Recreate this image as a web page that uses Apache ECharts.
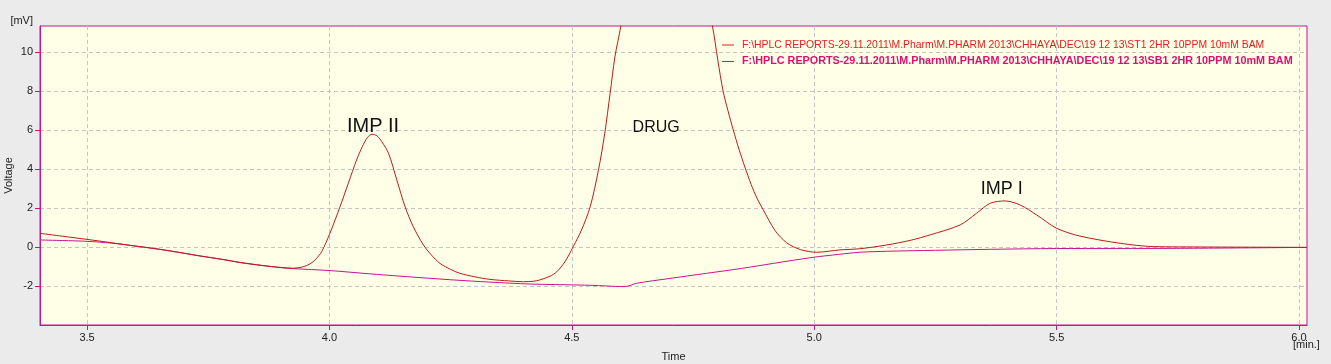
<!DOCTYPE html>
<html>
<head>
<meta charset="utf-8">
<script src="https://cdn.jsdelivr.net/npm/echarts@6/dist/echarts.min.js"></script>
<style>
html,body{margin:0;padding:0;background:#ebebeb;}
#chart{width:1331px;height:364px;}
</style>
</head>
<body>
<div id="chart"></div>
<script>
// ---- data (time in min, voltage in mV) ----
const st1Time = [3.403,3.45,3.50,3.55,3.59,3.65,3.70,3.733,3.78,3.816,3.86,3.90,3.926,3.945,3.960,3.972,3.984,4.001,4.022,4.039,4.056,4.068,4.078,4.088,4.098,4.108,4.122,4.139,4.156,4.173,4.194,4.21,4.228,4.25,4.269,4.30,4.331,4.37,4.400,4.420,4.434,4.455,4.469,4.486,4.503,4.520,4.538,4.555,4.568,4.579,4.589,4.601,4.62,4.65,4.69,4.73,4.76,4.790,4.801,4.812,4.822,4.833,4.845,4.857,4.870,4.882,4.895,4.919,4.943,4.971,5.005,5.053,5.094,5.149,5.20,5.239,5.301,5.335,5.363,5.394,5.425,5.459,5.500,5.548,5.631,5.700,5.80,5.90,6.0165];
const st1Volt = [0.70,0.55,0.39,0.22,0.08,-0.12,-0.32,-0.46,-0.64,-0.79,-0.94,-1.05,-1.09,-1.02,-0.87,-0.62,-0.24,0.70,2.07,3.27,4.46,5.15,5.60,5.78,5.70,5.40,4.80,3.44,2.07,1.04,0.10,-0.40,-0.84,-1.15,-1.35,-1.53,-1.66,-1.74,-1.78,-1.76,-1.69,-1.50,-1.27,-0.75,0.02,0.87,2.07,3.95,5.83,7.88,9.76,11.3,14.0,17.0,18.0,17.0,14.5,11.33,9.6,8.0,7.0,6.0,5.0,4.1,3.2,2.5,1.9,0.85,0.22,-0.13,-0.27,-0.15,-0.09,0.10,0.35,0.62,1.13,1.73,2.24,2.36,2.15,1.64,0.96,0.56,0.19,0.02,0.00,-0.01,-0.02];
const sb1Time = [3.403,3.45,3.50,3.55,3.59,3.65,3.70,3.733,3.78,3.816,3.86,3.90,3.926,4.001,4.08,4.159,4.25,4.33,4.414,4.517,4.555,4.590,4.610,4.634,4.70,4.778,4.85,4.916,4.998,5.05,5.094,5.149,5.25,5.363,5.50,5.748,6.0165];
const sb1Volt = [0.36,0.33,0.29,0.20,0.08,-0.12,-0.32,-0.46,-0.64,-0.80,-0.95,-1.06,-1.11,-1.21,-1.37,-1.52,-1.68,-1.80,-1.90,-1.95,-1.98,-2.02,-2.03,-1.86,-1.62,-1.35,-1.10,-0.84,-0.53,-0.38,-0.27,-0.22,-0.17,-0.12,-0.08,-0.07,-0.02];

const seriesNames = [
  'F:\\HPLC REPORTS-29.11.2011\\M.Pharm\\M.PHARM 2013\\CHHAYA\\DEC\\19 12 13\\ST1 2HR 10PPM 10mM BAM',
  'F:\\HPLC REPORTS-29.11.2011\\M.Pharm\\M.PHARM 2013\\CHHAYA\\DEC\\19 12 13\\SB1 2HR 10PPM 10mM BAM'
];
const xTicks = [3.5,4.0,4.5,5.0,5.5,6.0];
const yTicks = [-2,0,2,4,6,8,10];
const peakLabels = ['IMP II','DRUG','IMP I'];
const peakLabelTime = [4.090,4.674,5.387];
const peakLabelVolt = [6.2,6.1,2.97];
const peakLabelSize = [20,16,18];

const xMin = 3.403, xMax = 6.0165, yMin = -4, yMax = 11.33;

const FONT = '"Liberation Sans", Arial, sans-serif';
const AXIS_COLOR = '#c8148c';
const RED = '#b81c1c';
const MAG = '#c4168c';

function zip(a, b){ return a.map((v,i)=>[v,b[i]]); }

const chart = echarts.init(document.getElementById('chart'), null, {renderer:'canvas'});
chart.setOption({
  backgroundColor: '#ebebeb',
  animation: false,
  textStyle: {fontFamily: FONT},
  grid: {
    left: 40, right: 24, top: 26, bottom: 39,
    containLabel: false, outerBoundsMode: 'none',
    show: true, backgroundColor: '#ffffe8', borderColor: AXIS_COLOR, borderWidth: 1
  },
  legend: {
    orient: 'vertical', left: 717, top: 35,
    icon: 'rect', itemWidth: 12, itemHeight: 1, itemGap: 6,
    data: [
      {name: seriesNames[0], itemStyle: {color: '#d8201e'}, textStyle: {color: '#e0201e', fontSize: 10.4, fontFamily: FONT, padding: [0,0,0,3]}},
      {name: seriesNames[1], itemStyle: {color: '#d0148a'}, textStyle: {color: '#dc1070', fontWeight: 'bold', fontSize: 10.8, fontFamily: FONT, padding: [0,0,0,3]}}
    ]
  },
  xAxis: {
    type: 'value', min: xMin, max: xMax,
    name: 'Time', nameLocation: 'middle', nameGap: 26,
    nameTextStyle: {color: '#222', fontSize: 11, fontFamily: FONT},
    axisLine: {show: true, onZero: false, lineStyle: {color: AXIS_COLOR, width: 1}},
    axisTick: {show: true, length: 5, customValues: xTicks, lineStyle: {color: AXIS_COLOR}},
    axisLabel: {
      color: '#222', fontSize: 11, margin: 7, customValues: xTicks,
      formatter: v => Number(v).toFixed(1)
    },
    splitLine: {show: true, lineStyle: {color: '#c4c4c4', type: [4,3], width: 1}}
  },
  yAxis: {
    type: 'value', min: yMin, max: yMax,
    name: 'Voltage', nameLocation: 'middle', nameGap: 26, nameRotate: 90, nameMoveOverlap: false,
    nameTextStyle: {color: '#222', fontSize: 11, fontFamily: FONT},
    axisLine: {show: true, onZero: false, lineStyle: {color: AXIS_COLOR, width: 1}},
    axisTick: {show: true, length: 5, customValues: yTicks, lineStyle: {color: AXIS_COLOR}},
    axisLabel: {
      color: '#222', fontSize: 11, margin: 7, customValues: yTicks,
      formatter: v => String(Math.round(v))
    },
    splitLine: {show: true, lineStyle: {color: '#c4c4c4', type: [4,3], width: 1}}
  },
  graphic: [
    {type: 'text', right: 1331 - 33, top: 15, style: {text: '[mV]', fill: '#222', font: '11px ' + FONT, textAlign: 'right'}},
    {type: 'text', left: 1293, top: 339, style: {text: '[min.]', fill: '#222', font: '11px ' + FONT}}
  ],
  series: [
    {
      name: seriesNames[0], type: 'line', data: zip(st1Time, st1Volt),
      showSymbol: false, symbol: 'none', smooth: 0.3, clip: true,
      lineStyle: {color: RED, width: 1}, itemStyle: {color: RED},
      z: 3,
      markPoint: {
        symbol: 'circle', symbolSize: 0, silent: true,
        data: peakLabels.map((t,i)=>({
          name: t, coord: [peakLabelTime[i], peakLabelVolt[i]],
          label: {show: true, position: 'inside', formatter: t, color: '#111', fontSize: peakLabelSize[i], fontFamily: FONT}
        }))
      }
    },
    {
      name: seriesNames[1], type: 'line', data: zip(sb1Time, sb1Volt),
      showSymbol: false, symbol: 'none', smooth: 0.3, clip: true,
      lineStyle: {color: MAG, width: 1}, itemStyle: {color: MAG},
      z: 2
    }
  ]
});
</script>
</body>
</html>
